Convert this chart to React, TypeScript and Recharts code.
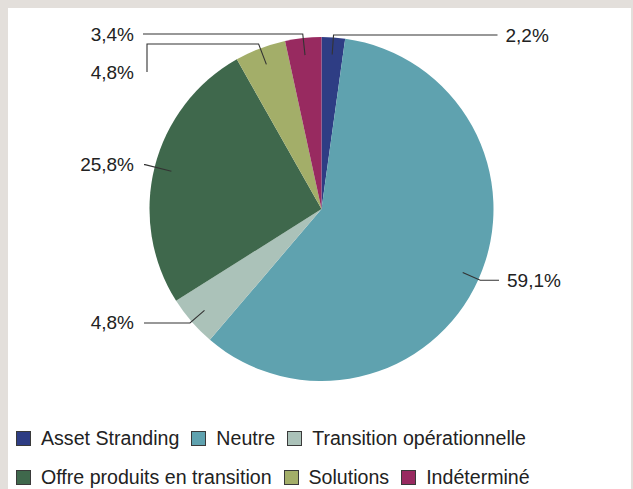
import React from 'react';
import { PieChart, Pie, Cell, Legend } from 'recharts';

const CATEGORIES = [
  'Asset Stranding',
  'Neutre',
  'Transition opérationnelle',
  'Offre produits en transition',
  'Solutions',
  'Indéterminé',
];
const VALUES = [2.2, 59.1, 4.8, 25.8, 4.8, 3.4];
const COLORS = ['#2e3d84', '#5fa2af', '#abc2b9', '#3f684c', '#a3ae69', '#982a60'];
const LEGEND_ROWS = [
  [0, 1, 2],
  [3, 4, 5],
];

const data = CATEGORIES.map((name, i) => ({ name, value: VALUES[i] }));

const FONT = '"Liberation Sans", Arial, Helvetica, sans-serif';
const TEXT_COLOR = '#222222';

// label routing (styling only): elbow on the slice's mid-angle ray
type Layout = {
  elbowDy?: number;
  elbowR?: number;
  endDx: number;
  dropDy?: number;
  textDx: number;
};
const LABEL_LAYOUT: Layout[] = [
  { elbowDy: -174, endDx: 176, textDx: 184 },
  { elbowR: 1.012, endDx: 177.5, textDx: 185.5 },
  { elbowR: 1.012, endDx: -177.5, textDx: -187.5 },
  { elbowR: 1.058, endDx: -177.5, textDx: -187.5 },
  { elbowDy: -165, endDx: -174.5, dropDy: -137, textDx: -187.5 },
  { elbowDy: -175, endDx: -178.5, textDx: -187.5 },
];

const RAD = Math.PI / 180;

const renderLabel = (props: any) => {
  const { cx, cy, midAngle, outerRadius, index, value } = props;
  const lay = LABEL_LAYOUT[index];
  const c = Math.cos(-midAngle * RAD);
  const s = Math.sin(-midAngle * RAD);
  const r0 = outerRadius * 0.9;
  const x0 = cx + r0 * c;
  const y0 = cy + r0 * s;
  let ex: number, ey: number;
  if (lay.elbowDy !== undefined) {
    ey = cy + lay.elbowDy;
    const t = (ey - cy) / s;
    ex = cx + t * c;
  } else {
    const r1 = outerRadius * (lay.elbowR as number);
    ex = cx + r1 * c;
    ey = cy + r1 * s;
  }
  const hx = cx + lay.endDx;
  const pts: number[][] = [
    [x0, y0],
    [ex, ey],
    [hx, ey],
  ];
  let ty = ey;
  if (lay.dropDy !== undefined) {
    ty = cy + lay.dropDy;
    pts.push([hx, ty]);
  }
  const anchor = lay.textDx > 0 ? 'start' : 'end';
  const txt = Number(value).toFixed(1).replace('.', ',') + '%';
  return (
    <g key={`lbl-${index}`}>
      <polyline
        points={pts.map((p) => p.join(',')).join(' ')}
        fill="none"
        stroke="#333333"
        strokeWidth={1.1}
      />
      <text
        x={cx + lay.textDx}
        y={ty}
        textAnchor={anchor}
        dominantBaseline="central"
        fontFamily={FONT}
        fontSize={19}
        fill={TEXT_COLOR}
      >
        {txt}
      </text>
    </g>
  );
};

const LegendContent = () => (
  <div style={{ fontFamily: FONT, fontSize: 19.6, color: TEXT_COLOR }}>
    {LEGEND_ROWS.map((row, ri) => (
      <div
        key={ri}
        style={{ display: 'flex', alignItems: 'center', height: 39, whiteSpace: 'nowrap' }}
      >
        {row.map((i) => (
          <div key={i} style={{ display: 'flex', alignItems: 'center', marginRight: 12 }}>
            <span
              style={{
                display: 'inline-block',
                width: 13,
                height: 13,
                background: COLORS[i],
                border: '1px solid #3a3a3a',
                marginRight: 10,
              }}
            />
            <span>{CATEGORIES[i]}</span>
          </div>
        ))}
      </div>
    ))}
  </div>
);

export default function App() {
  return (
    <div style={{ position: 'absolute', left: 0, top: 0, width: 633, height: 489, background: '#e3dfdb', overflow: 'hidden' }}>
      <div style={{ position: 'absolute', left: 8, top: 8, width: 623, height: 481, background: '#ffffff' }} />
      <div style={{ position: 'absolute', left: 0, top: 0 }}>
        <PieChart width={633} height={489} margin={{ top: 0, right: 0, bottom: 0, left: 0 }}>
          <Pie
            data={data}
            dataKey="value"
            nameKey="name"
            cx={321.5}
            cy={209}
            outerRadius={172}
            startAngle={90}
            endAngle={-270}
            stroke="none"
            label={renderLabel}
            labelLine={false}
            isAnimationActive={false}
          >
            {data.map((d, i) => (
              <Cell key={d.name} fill={COLORS[i]} />
            ))}
          </Pie>
          <Legend
            content={<LegendContent />}
            wrapperStyle={{ position: 'absolute', left: 16, top: 418.5, width: 610, margin: 0 }}
          />
        </PieChart>
      </div>
    </div>
  );
}
